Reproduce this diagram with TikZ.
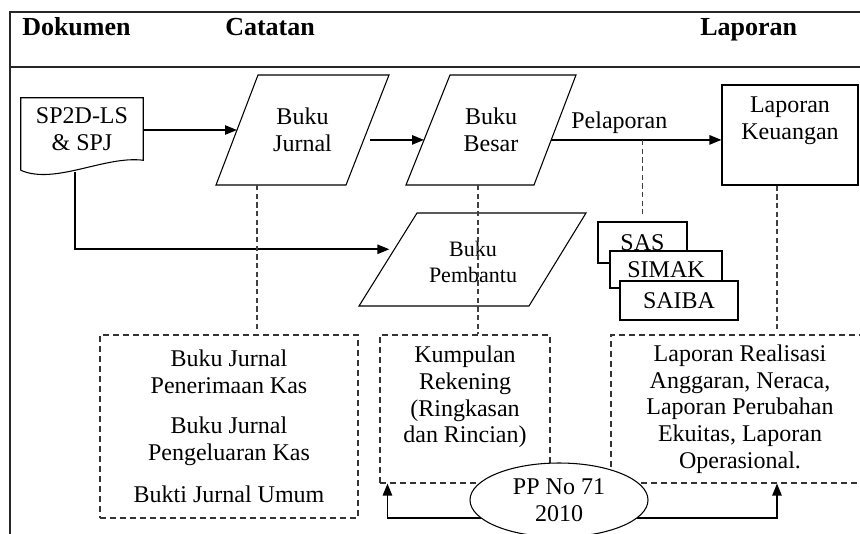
\documentclass[tikz,border=0pt]{standalone}
\usepackage{fontspec}
\setmainfont{Liberation Serif}
\usepackage{tikz}
\usetikzlibrary{calc}
\usetikzlibrary{positioning}
\usetikzlibrary{shapes.geometric}
\usetikzlibrary{arrows.meta}
\tikzstyle{bingkai} = [draw=black!85, line width=1pt]
\tikzstyle{judul} = [inner sep=0pt, font=\fontsize{19.5}{22}\bfseries\selectfont]
\tikzstyle{teks} = [align=center, inner sep=0pt]
\tikzstyle{sisi} = [draw, line width=0.8pt, line join=miter]
\tikzstyle{kotak} = [draw, rectangle, align=center, line width=0.8pt]
\tikzstyle{kotakputus} = [draw=black!80, rectangle, align=center, line width=0.8pt,
dash pattern=on 4.5pt off 3pt]
\tikzstyle{garis} = [draw=black!75, line width=0.8pt, dash pattern=on 4pt off 2.5pt]
\tikzstyle{panah} = [-{Triangle[length=9pt,width=7pt]}, line width=1.2pt]

\begin{document}
\begin{tikzpicture}[x=0.75pt, y=-0.75pt, font=\fontsize{18}{20}\selectfont]
        \useasboundingbox (0,0) rectangle (860,533);
        \clip (0,0) rectangle (860,533);
        % bingkai dan judul kolom
        \draw[bingkai] (10,545) -- (10,12) -- (875,12);
        \draw[bingkai] (10,67) -- (875,67);
        \node[judul, anchor=base west] (hdok) at (22,35) {Dokumen};
        \node[judul, anchor=base west] (hcat) at (225,35) {Catatan};
        \node[judul, anchor=base west] (hlap) at (700,35) {Laporan};
        % dokumen sumber
        \node[teks, minimum width=91.5pt, minimum height=46.5pt] (doc) at (82,129) {SP2D-LS\\\& SPJ};
        \draw[line width=0.8pt] ($(doc.south west)+(0,10)$) -- (doc.north west) -- (doc.north east)
            -- (doc.south east) .. controls +(-38,-5) and +(34,15) .. ($(doc.south west)+(0,10)$);
        % catatan: buku jurnal, buku besar, buku pembantu
        \coordinate (jbl) at (216,185); \coordinate (jtl) at (258,75);
        \coordinate (jtr) at (389,75);  \coordinate (jbr) at (346,185);
        \draw[sisi] (jbl) -- (jtl) -- (jtr) -- (jbr) -- cycle;
        \node[teks] (jurnal) at ($(jbl)!0.5!(jtr)$) {Buku\\Jurnal};
        \coordinate (bbl) at (406,185); \coordinate (btl) at (450,75);
        \coordinate (btr) at (576,75);  \coordinate (bbr) at (534,185);
        \draw[sisi] (bbl) -- (btl) -- (btr) -- (bbr) -- cycle;
        \node[teks] (besar) at ($(bbl)!0.5!(btr)$) {Buku\\Besar};
        \coordinate (pbl) at (359,306); \coordinate (ptl) at (417,213);
        \coordinate (ptr) at (586,213); \coordinate (pbr) at (529,306);
        \draw[sisi] (pbl) -- (ptl) -- (ptr) -- (pbr) -- cycle;
        \node[teks, font=\fontsize{16.5}{19}\selectfont] (pembantu) at (473,262) {Buku\\Pembantu};
        % laporan
        \node[kotak, minimum width=102pt, minimum height=75pt] (lapkeu) at (790,135) {};
        \node[teks] (tlapkeu) at (790,121) {Laporan\\Keuangan};
        \node[kotak, fill=white, minimum width=66.75pt, minimum height=30.75pt] (sas) at (642.5,242.5) {SAS};
        \node[kotak, fill=white, minimum width=84pt, minimum height=27.75pt] (simak) at (666,269.5) {SIMAK};
        \node[kotak, fill=white, minimum width=88.5pt, minimum height=29.25pt] (saiba) at (679,300.5) {SAIBA};
        % kotak keterangan
        \node[kotakputus, minimum width=193.5pt, minimum height=137.25pt] (boxjurnal) at (229,426.5)
            {Buku Jurnal\\Penerimaan Kas\\[10pt]Buku Jurnal\\Pengeluaran Kas\\[12pt]Bukti Jurnal Umum};
        \node[kotakputus, minimum width=127.5pt, minimum height=111pt] (boxrek) at (465,409) {};
        \node[teks] (trek) at (465,397) {Kumpulan\\Rekening\\(Ringkasan\\dan Rincian)};
        \node[kotakputus, minimum width=193.5pt, minimum height=111pt] (boxlap) at (740,409)
            {Laporan Realisasi\\Anggaran, Neraca,\\Laporan Perubahan\\Ekuitas, Laporan\\Operasional.};
        \node[draw, ellipse, fill=white, line width=0.8pt, minimum width=133.5pt, minimum height=55.5pt,
            inner sep=0pt, align=center] (pp) at (559,500) {PP No 71\\2010};
        % alur
        \coordinate (jkiri) at ($(jbl)!0.5!(jtl)$);
        \draw[panah] (doc.east |- jkiri) -- (jkiri);
        \draw[panah] ($(jbr)!0.41!(jtr)+(6,0)$) -- ($(bbl)!0.41!(btl)$);
        \coordinate (bkanan) at ($(bbr)!0.41!(btr)$);
        \draw[panah] (bkanan) -- node[above=1pt, pos=0.4] (tpel) {Pelaporan} (lapkeu.west |- bkanan);
        \draw[panah] ($(doc.south)+(-7,12)$) |- ($(pbl)!0.61!(ptl)+(-5,0)$);
        % garis putus
        \coordinate (jx) at (257,185);
        \coordinate (bx) at (478,185);
        \coordinate (lx) at ($(lapkeu.south)+(-13,0)$);
        \draw[garis] (jx) -- ($(jx |- boxjurnal.north)+(0,-5)$);
        \draw[garis] (bx) -- (bx |- boxrek.north);
        \draw[garis] (lx) -- ($(lx |- boxlap.north)+(0,-5)$);
        \draw[garis] (sas.north |- bkanan) -- ($(sas.north)+(0,-7)$);
        % dasar hukum
        \draw[panah] (pp.-167) -| ($(boxrek.south west)+(8,0)$);
        \draw[panah] (pp.-13) -| (lx |- boxlap.south);
    \end{tikzpicture}
\end{document}
